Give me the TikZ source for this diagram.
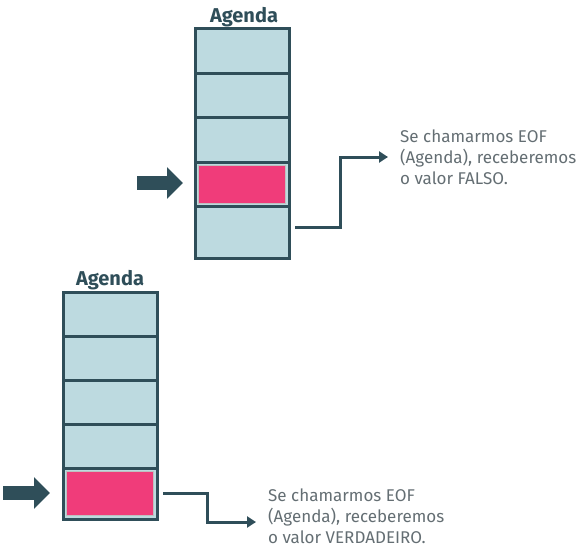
\documentclass[tikz,border=0pt]{standalone}
\usepackage{fontspec}
\setmainfont{Fira Sans}
\usepackage{tikz}
\usetikzlibrary{positioning,arrows.meta}
\definecolor{framecolor}{RGB}{47,78,89}
\definecolor{cellcolor}{RGB}{189,218,224}
\definecolor{markcolor}{RGB}{240,60,122}
\definecolor{notecolor}{RGB}{100,110,115}

\begin{document}
\begin{tikzpicture}[x=1pt, y=-1pt, node distance=0pt,
    cell/.style={draw=framecolor, fill=cellcolor, line width=3pt, outer sep=0pt, inner sep=0pt, minimum width=94pt, minimum height=44pt},
    current/.style={draw=black!25, fill=markcolor, line width=1pt, inner sep=0pt, minimum width=87pt, minimum height=38pt},
    title/.style={font=\fontsize{20}{22}\selectfont\bfseries, text=framecolor, inner sep=0pt, outer sep=2pt},
    note/.style={font=\fontsize{17}{21}\selectfont, text=notecolor, align=left, inner sep=0pt, anchor=west},
    pointer/.style={line width=14pt, draw=framecolor, -{Triangle[length=16pt, width=31pt]}},
    link/.style={line width=3pt, draw=framecolor, -{Triangle[length=9pt, width=11pt]}}]

    \useasboundingbox (0,0) rectangle (588,551);

    % Pilha de cima
    \node[cell] (t1) at (242,51) {};
    \node[cell, below=of t1] (t2) {};
    \node[cell, below=of t2, minimum height=45pt] (t3) {};
    \node[cell, below=of t3] (t4) {};
    \node[cell, below=of t4, minimum height=52pt] (t5) {};
    \node[current] (p1) at (t4) {};
    \node[title, above=of t1, xshift=2pt] (agendaTop) {Agenda};

    % Ponteiro de cima
    \coordinate (ptrTop) at (137,183);
    \draw[pointer] (ptrTop) -- ([xshift=-12pt]t4.west |- ptrTop);

    % Nota de cima
    \node[note] (noteTop) at (400,157) {Se chamarmos EOF\\(Agenda), receberemos\\o valor FALSO.};
    \draw[link] ([xshift=6pt, yshift=5pt]t5.east) -- ++(45,0) |- ([xshift=-12pt]noteTop.west);

    % Pilha de baixo
    \node[cell] (b1) at (110,314) {};
    \node[cell, below=of b1] (b2) {};
    \node[cell, below=of b2] (b3) {};
    \node[cell, below=of b3] (b4) {};
    \node[cell, below=of b4, minimum height=51pt] (b5) {};
    \node[current, minimum height=44pt] (p2) at (b5) {};
    \node[title, above=of b1] (agendaBot) {Agenda};

    % Ponteiro de baixo
    \coordinate (ptrBot) at (3,493);
    \draw[pointer] (ptrBot) -- ([xshift=-13pt]b5.west |- ptrBot);

    % Nota de baixo
    \node[note] (noteBot) at (268,516) {Se chamarmos EOF\\(Agenda), receberemos\\o valor VERDADEIRO.};
    \draw[link] ([xshift=6pt]b5.east) -- ++(44,0) |- ([xshift=-12pt, yshift=-6pt]noteBot.west);
\end{tikzpicture}
\end{document}
